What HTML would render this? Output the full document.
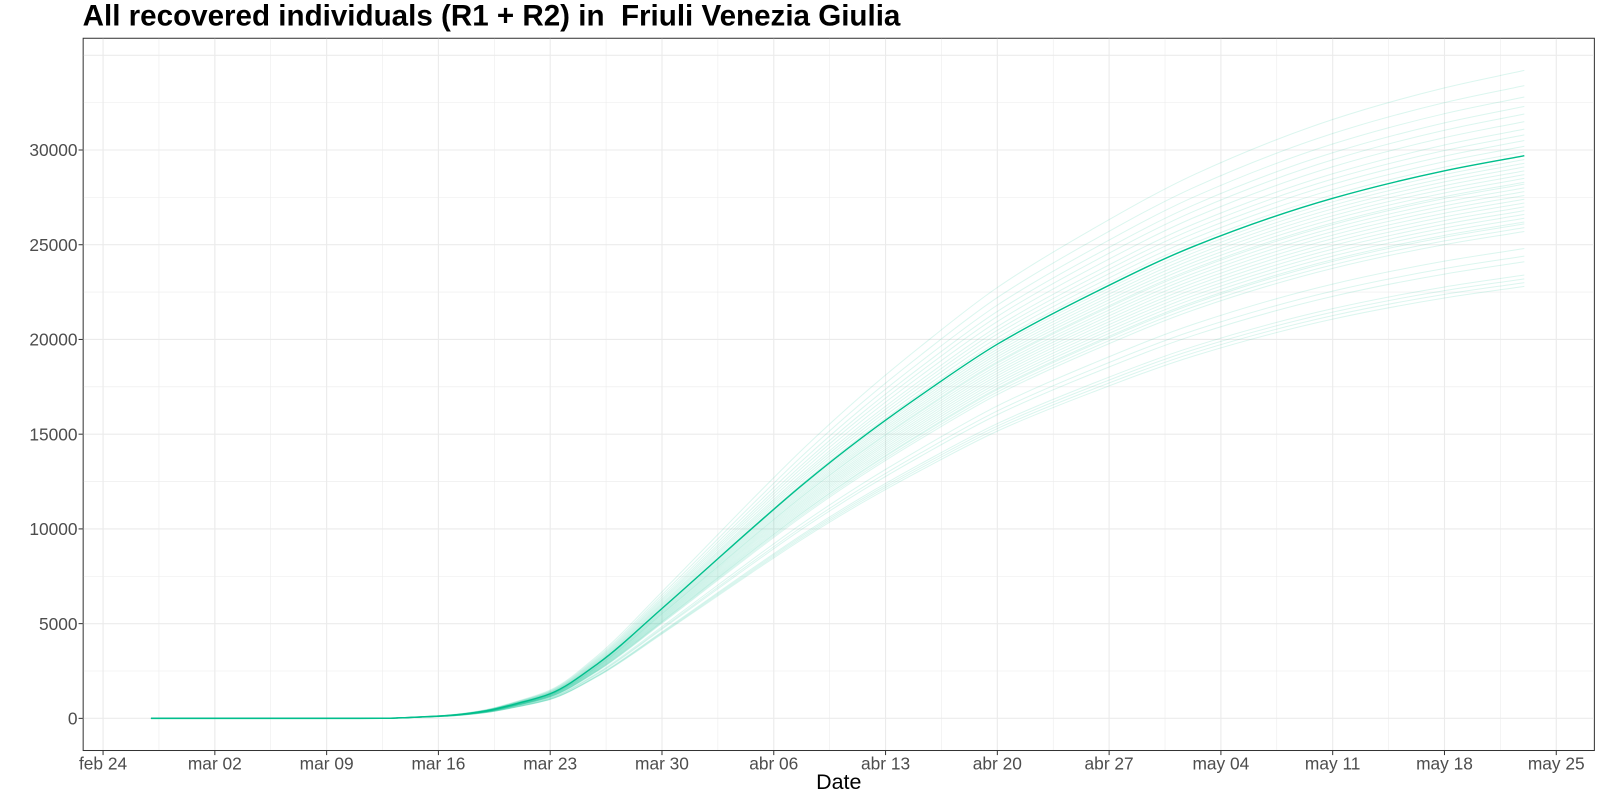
<!DOCTYPE html>
<html><head><meta charset="utf-8"><style>
html,body{margin:0;padding:0;background:#fff;overflow:hidden;width:1600px;height:800px;}
svg{display:block;}
svg text{font-family:"Liberation Sans",sans-serif;}
</style></head><body>
<svg id="chart" width="1600" height="800" xmlns="http://www.w3.org/2000/svg">
<g transform="scale(1.0204)">
<text x="81" y="25" font-size="29" font-weight="bold" fill="#000" style="white-space:pre">All recovered individuals (R1 + R2) in  Friuli Venezia Giulia</text>
<rect x="81.5" y="37.5" width="1481" height="698" fill="#fff" stroke="#333" stroke-width="1"/>
<g id="grid"></g><g id="ens"></g><g id="main"></g><g id="axes"></g>
<text x="822" y="773" font-size="21" text-anchor="middle" fill="#000">Date</text>
</g>
</svg>
<script>
const days=[3,16,18,19,20,21,22,24,26,28,31,35,38,40.6,43.9,47.5,51.2,56,61.9,68.4,77,84,89];
const mainVals=[0,0,10,40,80,120,180,400,800,1300,2900,5800,8050,10000,12400,14800,17050,19750,22400,24950,27450,28900,29700];
const memberFinals=[22800,23000,23200,23400,24100,24400,24800,25700,25900,26100,26200,26400,26600,26800,27000,27200,27400,27600,27800,28000,28200,28300,28500,28700,28900,29100,29300,29500,29700,29900,30200,30500,30800,31100,31500,31900,32300,32800,33400,34200];
const yTicks=[0,5000,10000,15000,20000,25000,30000];
const xTickLabels=["feb 24","mar 02","mar 09","mar 16","mar 23","mar 30","abr 06","abr 13","abr 20","abr 27","may 04","may 11","may 18","may 25"];
const X0=101,PXD=15.65;
const xs=d=>X0+d*PXD;
const ys=v=>704-v*(557/30000);
const NS="http://www.w3.org/2000/svg";
function mk(tag,attrs,parent){const e=document.createElementNS(NS,tag);for(const k in attrs)e.setAttribute(k,attrs[k]);parent.appendChild(e);return e;}
const grid=document.getElementById('grid'),axes=document.getElementById('axes');
for(let v=-2500;v<=35000;v+=2500){const y=ys(v);if(y<38||y>735)continue;
 const l=mk('line',{x1:82,x2:1562,y1:y,y2:y,stroke:'#ebebeb','stroke-width':v%5000===0?1.1:0.55},grid);
 }
for(let i=-1;i<=28;i++){const x=xs(i*3.5);if(x<82||x>1562)continue;
 const l=mk('line',{x1:x,x2:x,y1:38,y2:735,stroke:'#ebebeb','stroke-width':i%2===0?1.1:0.55},grid);
 }
yTicks.forEach(v=>{const y=ys(v);
 const t=mk('text',{x:76,y:y+6,'font-size':17,'text-anchor':'end',fill:'#4d4d4d'},axes);t.textContent=v;
 
 const tk=mk('line',{x1:77,x2:81,y1:y,y2:y,stroke:'#333'},axes);
 });
xTickLabels.forEach((s,i)=>{const x=xs(i*7);
 const t=mk('text',{x:x,y:754,'font-size':17,'text-anchor':'middle',fill:'#4d4d4d'},axes);t.textContent=s;
 
 const tk=mk('line',{x1:x,x2:x,y1:736,y2:740,stroke:'#333'},axes);
 });
function pathFor(vals){
 const X=days.map(xs),Y=vals.map(ys),n=X.length;
 const d=[],m=[];for(let i=0;i<n-1;i++)d.push((Y[i+1]-Y[i])/(X[i+1]-X[i]));
 m[0]=d[0];m[n-1]=d[n-2];
 for(let i=1;i<n-1;i++){if(d[i-1]*d[i]<=0)m[i]=0;else{const w1=2*(X[i+1]-X[i])+(X[i]-X[i-1]),w2=(X[i+1]-X[i])+2*(X[i]-X[i-1]);m[i]=(w1+w2)/(w1/d[i-1]+w2/d[i]);}}
 let s='M'+X[0]+','+Y[0];
 for(let i=0;i<n-1;i++){const h=(X[i+1]-X[i])/3;
  s+=`C${X[i]+h},${Y[i]+m[i]*h} ${X[i+1]-h},${Y[i+1]-m[i+1]*h} ${X[i+1]},${Y[i+1]}`;}
 return s;}
const mainFinal=mainVals[mainVals.length-1];
const ens=document.getElementById('ens');
memberFinals.forEach(f=>{const vals=mainVals.map(v=>v*f/mainFinal);
 const p=mk('path',{d:pathFor(vals),fill:'none',stroke:'#00BF8C','stroke-opacity':0.14,'stroke-width':1},ens);
 });
const m=mk('path',{d:pathFor(mainVals),fill:'none',stroke:'#00BF8C','stroke-width':1.4},document.getElementById('main'));

</script>
</body></html>
